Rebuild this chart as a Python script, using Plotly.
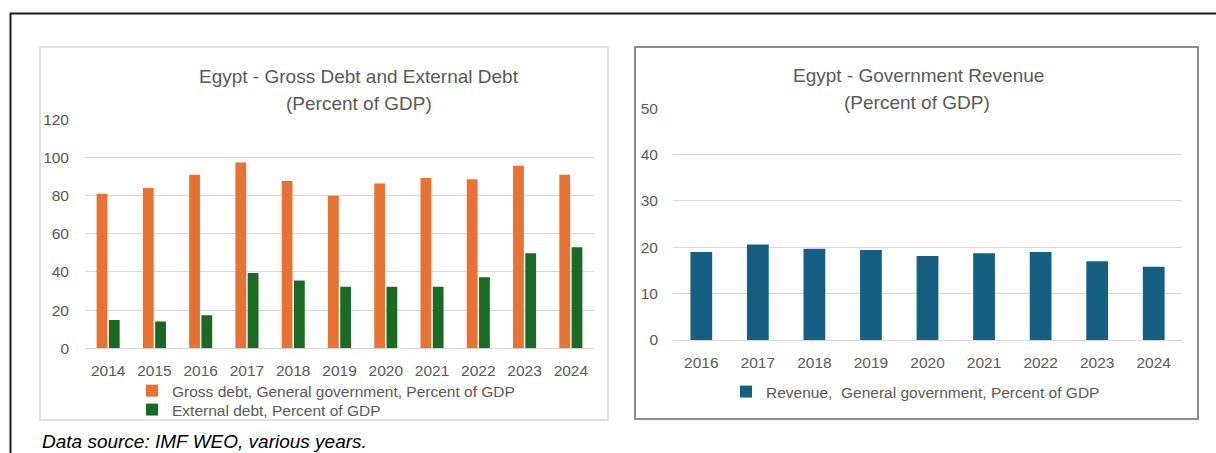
import plotly.graph_objects as go

# ---- data ----
debt_years = ["2014", "2015", "2016", "2017", "2018", "2019", "2020", "2021", "2022", "2023", "2024"]
gross_debt = [81.0, 84.0, 91.0, 97.3, 87.7, 80.0, 86.3, 89.3, 88.6, 95.7, 91.0]
external_debt = [14.8, 14.1, 17.3, 39.5, 35.5, 32.3, 32.3, 32.3, 37.2, 49.8, 52.9]

rev_years = ["2016", "2017", "2018", "2019", "2020", "2021", "2022", "2023", "2024"]
revenue = [19.0, 20.6, 19.7, 19.4, 18.1, 18.7, 19.0, 17.0, 15.8]

debt_ticks = [0, 20, 40, 60, 80, 100, 120]
rev_ticks = [0, 10, 20, 30, 40, 50]

# ---- styling ----
W, H = 1216, 453
FONT = "Liberation Sans, Arial, sans-serif"
TXT = "#595959"
GRID = "#D9D9D9"
ORANGE = "#E97132"
GREEN = "#196B24"
BLUE = "#156082"


def px(x):
    return x / W


def py(y):
    return 1 - y / H


fig = go.Figure()

fig.add_trace(go.Bar(x=debt_years, y=gross_debt, name="Gross debt, General government, Percent of GDP",
                     marker=dict(color=ORANGE, line=dict(width=0)), xaxis="x", yaxis="y",
                     legend="legend", hoverinfo="x+y"))
fig.add_trace(go.Bar(x=debt_years, y=external_debt, name="External debt, Percent of GDP",
                     marker=dict(color=GREEN, line=dict(width=0)), xaxis="x", yaxis="y",
                     legend="legend3", hoverinfo="x+y"))
fig.add_trace(go.Bar(x=rev_years, y=revenue, name="Revenue,  General government, Percent of GDP",
                     marker=dict(color=BLUE, line=dict(width=0)), xaxis="x2", yaxis="y2",
                     width=0.385, legend="legend2", hoverinfo="x+y"))

axis_font = dict(family=FONT, size=15.5, color=TXT)
legend_font = dict(family=FONT, size=15.5, color=TXT)


def legend_box(x_left, y_top):
    return dict(x=px(x_left), y=py(y_top), xanchor="left", yanchor="top", orientation="v",
                font=legend_font, bgcolor="rgba(0,0,0,0)", borderwidth=0)


fig.update_layout(
    width=W, height=H,
    margin=dict(l=0, r=0, t=0, b=0, pad=0, autoexpand=False),
    paper_bgcolor="white", plot_bgcolor="white",
    font=dict(family=FONT, color=TXT),
    barmode="group", bargap=0.47, bargroupgap=0.12,
    xaxis=dict(domain=[px(85), px(594)], anchor="y", showgrid=False, showline=False,
               ticks="", tickfont=axis_font, ticklabelstandoff=11, fixedrange=True, automargin=False),
    yaxis=dict(domain=[py(348.3), py(119.3)], anchor="x", range=[0, 120], tickvals=debt_ticks,
               showgrid=True, gridcolor=GRID, gridwidth=1.3, zeroline=True, zerolinecolor=GRID,
               zerolinewidth=1.3, showline=False, ticks="", tickfont=axis_font,
               ticklabelstandoff=15, fixedrange=True, automargin=False),
    xaxis2=dict(domain=[px(673), px(1182)], anchor="y2", showgrid=False, showline=False,
                ticks="", tickfont=axis_font, ticklabelstandoff=11, fixedrange=True, automargin=False),
    yaxis2=dict(domain=[py(340), py(108.3)], anchor="x2", range=[0, 50], tickvals=rev_ticks,
                showgrid=True, gridcolor=GRID, gridwidth=1.3, zeroline=True, zerolinecolor=GRID,
                zerolinewidth=1.3, showline=False, ticks="", tickfont=axis_font,
                ticklabelstandoff=14, fixedrange=True, automargin=False),
    legend=legend_box(132, 374),
    legend3=legend_box(132, 393),
    legend2=legend_box(726, 375),
    showlegend=True,
)

shapes = [
    # outer frame (top and left rule)
    dict(type="line", xref="paper", yref="paper", x0=px(10), x1=px(1216), y0=py(13.5), y1=py(13.5),
         line=dict(color="#1A1A1A", width=2)),
    dict(type="line", xref="paper", yref="paper", x0=px(10.5), x1=px(10.5), y0=py(13), y1=py(453),
         line=dict(color="#1A1A1A", width=2)),
    # chart boxes
    dict(type="rect", xref="paper", yref="paper", x0=px(40), x1=px(608), y0=py(420), y1=py(47),
         line=dict(color="#D9D9D9", width=1.5), fillcolor="rgba(0,0,0,0)", layer="below"),
    dict(type="rect", xref="paper", yref="paper", x0=px(635), x1=px(1198), y0=py(419), y1=py(47),
         line=dict(color="#8C8C8C", width=2), fillcolor="rgba(0,0,0,0)", layer="below"),
]
fig.update_layout(shapes=shapes)

title_font = dict(family=FONT, size=19, color=TXT)
annotations = [
    dict(text="Egypt - Gross Debt and External Debt", x=px(359), y=py(77), xref="paper", yref="paper",
         xanchor="center", yanchor="middle", showarrow=False, font=title_font),
    dict(text="(Percent of GDP)", x=px(359), y=py(103), xref="paper", yref="paper",
         xanchor="center", yanchor="middle", showarrow=False, font=title_font),
    dict(text="Egypt - Government Revenue", x=px(918), y=py(76), xref="paper", yref="paper",
         xanchor="center", yanchor="middle", showarrow=False, font=title_font),
    dict(text="(Percent of GDP)", x=px(917), y=py(102.5), xref="paper", yref="paper",
         xanchor="center", yanchor="middle", showarrow=False, font=title_font),
    dict(text="<i>Data source: IMF WEO, various years.</i>", x=px(40), y=py(429), xref="paper",
         yref="paper", xanchor="left", yanchor="top", showarrow=False,
         font=dict(family=FONT, size=19, color="#000000")),
]
fig.update_layout(annotations=annotations)

fig.write_html("out.html")
